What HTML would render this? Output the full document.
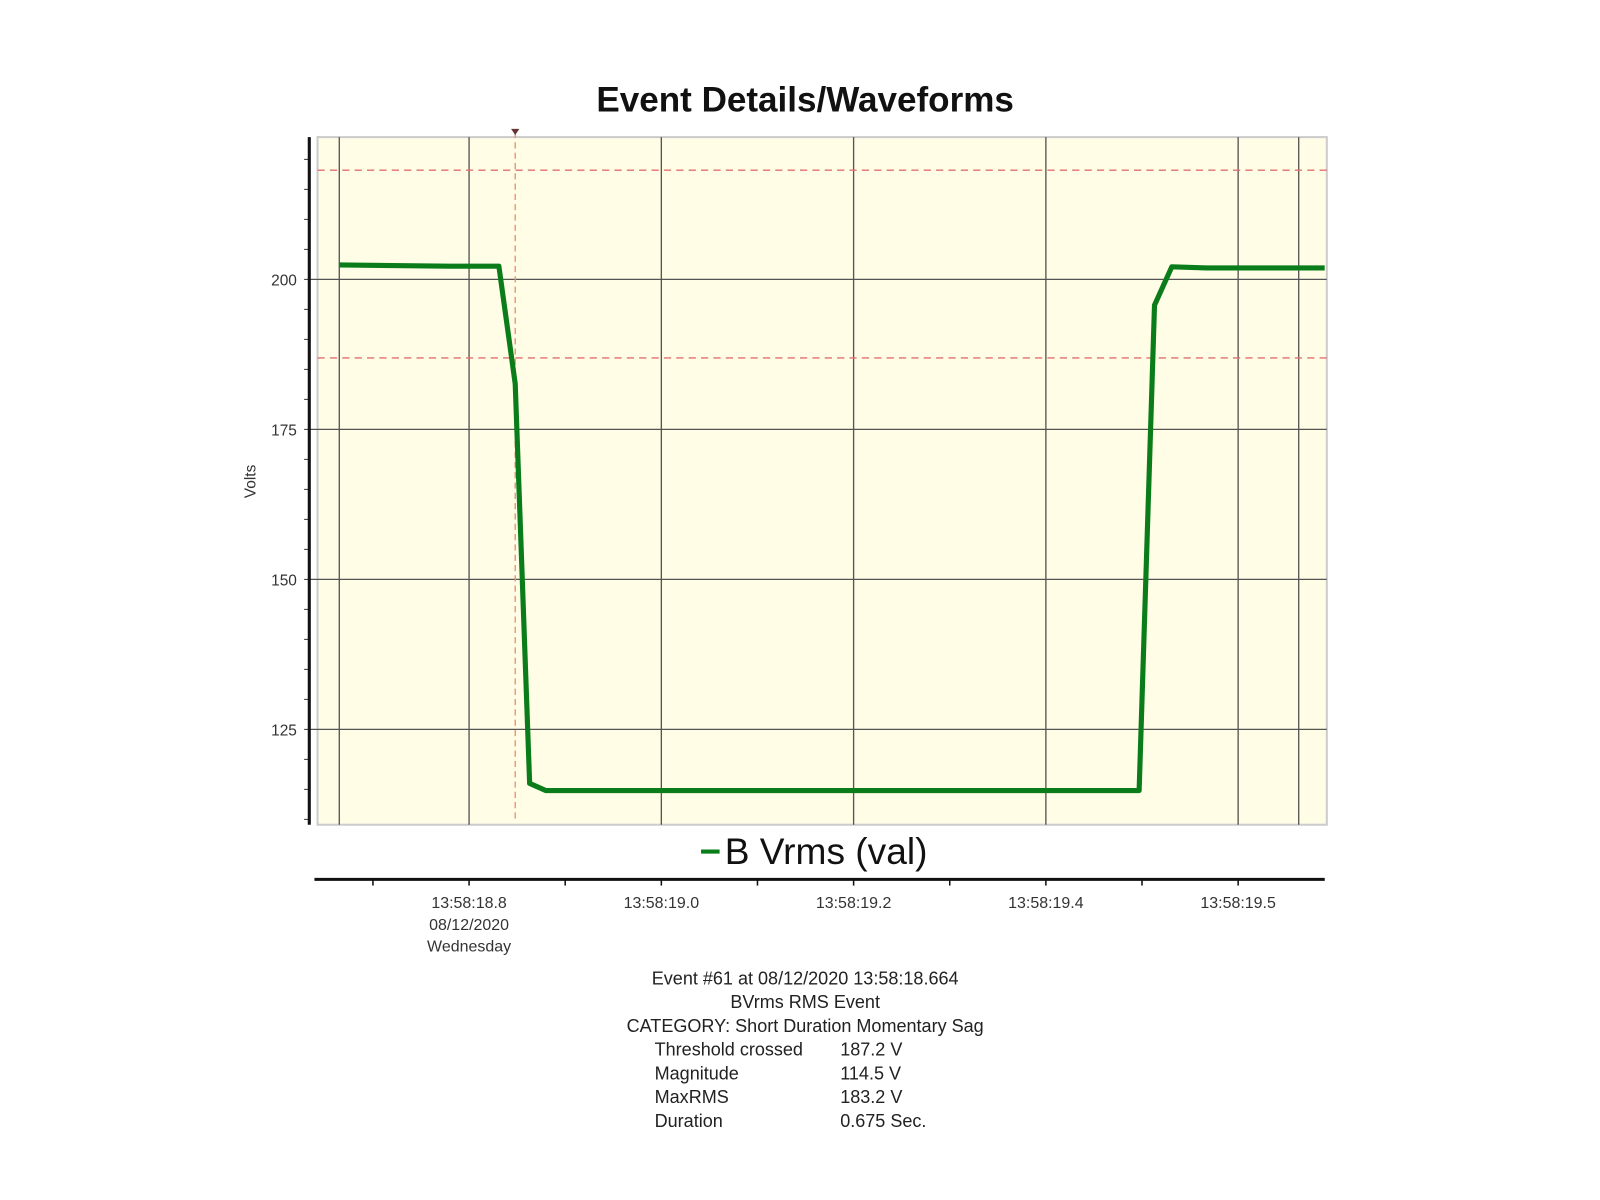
<!DOCTYPE html>
<html><head><meta charset="utf-8"><style>
body{margin:0;background:#fff;width:1600px;height:1200px;overflow:hidden;font-family:"Liberation Sans",sans-serif}
svg{position:absolute;left:0;top:0}
</style></head><body>
<svg id="c" width="1600" height="1200" viewBox="0 0 1552 1164"></svg>
<script>
const yTicks=[125,150,175,200];
const xTickTimes=[18.8,19.0,19.2,19.4,19.6];
const xTickLabels=["13:58:18.8","13:58:19.0","13:58:19.2","13:58:19.4","13:58:19.5"];
const extraGridTimes=[18.665,19.663];
const thresholds=[218.2,186.9];
const markerTime=18.848;
const seriesT=[18.665,18.779,18.831,18.848,18.863,18.880,19.497,19.513,19.531,19.567,19.690];
const seriesV=[202.4,202.2,202.2,182.6,116.0,114.8,114.8,195.7,202.1,201.9,201.9];
const infoLines=["Event #61 at 08/12/2020 13:58:18.664","BVrms RMS Event","CATEGORY: Short Duration Momentary Sag"];
const infoKeys=["Threshold crossed","Magnitude","MaxRMS","Duration"];
const infoVals=["187.2 V","114.5 V","183.2 V","0.675 Sec."];

const X=t=>455+(t-18.8)*932.5;
const Y=v=>271-(v-200)*5.82;
const svg=document.getElementById('c');
const NS='http://www.w3.org/2000/svg';
function mk(tag,attrs,name,text){const e=document.createElementNS(NS,tag);for(const k in attrs)e.setAttribute(k,attrs[k]);


if(text!==undefined)e.textContent=text;svg.appendChild(e);return e;}
const L=300,R=1287,T=133,B=800;
mk('text',{x:781,y:108,'text-anchor':'middle','font-size':34,'font-weight':'bold',fill:'#111'},'chart-title','Event Details/Waveforms');
mk('rect',{x:308,y:T,width:R-308,height:B-T,fill:'#fffde6',stroke:'#ccc','stroke-width':2},'plot-area');
yTicks.forEach(v=>{mk('line',{x1:300,x2:R,y1:Y(v),y2:Y(v),stroke:'#555','stroke-width':1.3},'y-grid-'+v);
mk('text',{x:288,y:Y(v)+6,'text-anchor':'end','font-size':15,fill:'#333'},'y-tick-label',String(v));});
for(let v=110;v<=220;v+=5){mk('line',{x1:295,x2:300,y1:Y(v),y2:Y(v),stroke:'#333'},'y-minor-tick');}
xTickTimes.concat(extraGridTimes).forEach(t=>mk('line',{x1:X(t),x2:X(t),y1:T,y2:B,stroke:'#555','stroke-width':1.3},'x-grid'));
thresholds.forEach(v=>mk('line',{x1:308,x2:R,y1:Y(v),y2:Y(v),stroke:'#e07070','stroke-dasharray':'7,5','stroke-width':1.3},'threshold-line'));
mk('line',{x1:X(markerTime),x2:X(markerTime),y1:T-5,y2:B-5,stroke:'#e89070','stroke-dasharray':'6,4','stroke-width':1.3},'event-marker-line');
mk('path',{d:`M${X(markerTime)-4} 125 L${X(markerTime)+4} 125 L${X(markerTime)} 131Z`,fill:'#633'},'event-marker-arrow');
mk('line',{x1:300,x2:300,y1:T,y2:B,stroke:'#111','stroke-width':3},'y-axis-line');
mk('text',{x:248,y:467,'text-anchor':'middle','font-size':15,fill:'#333',transform:'rotate(-90 248 467)'},'y-axis-title','Volts');
mk('polyline',{points:seriesT.map((t,i)=>X(t)+','+Y(seriesV[i])).join(' '),fill:'none',stroke:'#0a7d1a','stroke-width':5,'stroke-linejoin':'round'},'series-b-vrms');
mk('line',{x1:680,x2:698,y1:826,y2:826,stroke:'#0a7d1a','stroke-width':4},'legend-swatch');
mk('text',{x:703,y:838,'font-size':36,fill:'#111'},'legend-entry','B Vrms (val)');
mk('line',{x1:305,x2:1285,y1:853,y2:853,stroke:'#111','stroke-width':3},'x-axis-line');
for(let t=18.7;t<=19.61;t+=0.1){mk('line',{x1:X(t),x2:X(t),y1:853,y2:859,stroke:'#111','stroke-width':1.5},'x-tick');}
xTickTimes.forEach((t,i)=>mk('text',{x:X(t),y:881,'text-anchor':'middle','font-size':15.5,fill:'#333'},'x-tick-label',xTickLabels[i]));
mk('text',{x:X(18.8),y:902,'text-anchor':'middle','font-size':15.5,fill:'#333'},'x-date-label','08/12/2020');
mk('text',{x:X(18.8),y:923,'text-anchor':'middle','font-size':15.5,fill:'#333'},'x-day-label','Wednesday');
infoLines.forEach((s,i)=>mk('text',{x:781,y:955+i*23,'text-anchor':'middle','font-size':17.5,fill:'#222'},'event-info-line',s));
infoKeys.forEach((s,i)=>{mk('text',{x:635,y:1024+i*23,'font-size':17.5,fill:'#222'},'event-info-key',s);
mk('text',{x:815,y:1024+i*23,'font-size':17.5,fill:'#222'},'event-info-value',infoVals[i]);});
</script>
</body></html>
